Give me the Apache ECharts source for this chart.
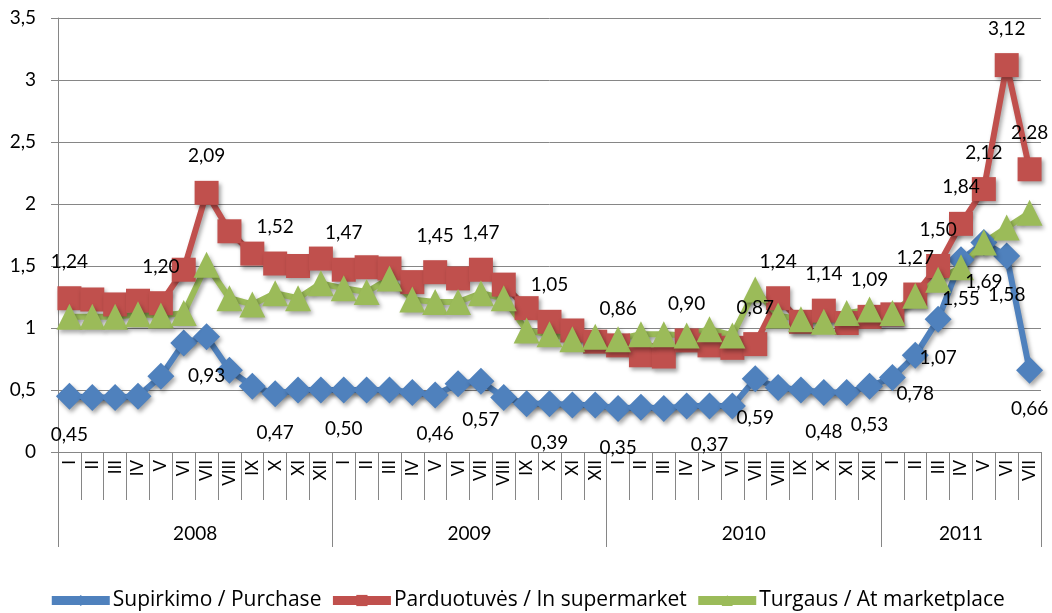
<!DOCTYPE html>
<html>
<head>
<meta charset="utf-8">
<script src="https://cdn.jsdelivr.net/npm/echarts@6/dist/echarts.min.js"></script>
<style>
html, body { margin: 0; padding: 0; background: #fff; }
#chart { width: 1052px; height: 613px; }
</style>
</head>
<body>
<div id="chart"></div>
<script>
// month names and years
const roman = ['I', 'II', 'III', 'IV', 'V', 'VI', 'VII', 'VIII', 'IX', 'X', 'XI', 'XII'];
const years = ['2008', '2009', '2010', '2011'];
const monthsPerYear = [12, 12, 12, 7];

const seriesNames = ['Supirkimo / Purchase', 'Parduotuvės / In supermarket', 'Turgaus / At marketplace'];

const purchase = [0.45, 0.44, 0.44, 0.45, 0.61, 0.88, 0.93, 0.66, 0.53, 0.47, 0.50, 0.50,
    0.50, 0.50, 0.50, 0.48, 0.46, 0.55, 0.57, 0.44, 0.39, 0.39, 0.38, 0.38,
    0.35, 0.36, 0.35, 0.37, 0.37, 0.37, 0.59, 0.52, 0.50, 0.48, 0.48, 0.53,
    0.60, 0.78, 1.07, 1.55, 1.69, 1.58, 0.66];
const supermarket = [1.24, 1.23, 1.19, 1.22, 1.20, 1.47, 2.09, 1.78, 1.60, 1.52, 1.50, 1.56,
    1.47, 1.49, 1.48, 1.37, 1.45, 1.40, 1.47, 1.35, 1.16, 1.05, 0.98, 0.89,
    0.86, 0.78, 0.77, 0.90, 0.86, 0.84, 0.87, 1.24, 1.05, 1.14, 1.04, 1.09,
    1.11, 1.27, 1.50, 1.84, 2.12, 3.12, 2.28];
const marketplace = [1.09, 1.09, 1.09, 1.11, 1.10, 1.12, 1.51, 1.24, 1.19, 1.28, 1.24, 1.36,
    1.32, 1.29, 1.40, 1.23, 1.21, 1.21, 1.28, 1.24, 0.98, 0.95, 0.91, 0.93,
    0.91, 0.95, 0.95, 0.94, 0.99, 0.94, 1.31, 1.10, 1.07, 1.05, 1.12, 1.15,
    1.12, 1.26, 1.39, 1.49, 1.69, 1.81, 1.93];

// which points carry a value label
const purchaseLabelIdx = [0, 6, 9, 12, 16, 18, 21, 24, 28, 30, 33, 35, 37, 38, 39, 40, 41, 42];
const supermarketLabelIdx = [0, 4, 6, 9, 12, 16, 18, 21, 24, 27, 30, 31, 33, 35, 37, 38, 39, 40, 41, 42];

const colors = ['#4F81BD', '#C0504D', '#9BBB59'];

let months = years.flatMap((y, i) => roman.slice(0, monthsPerYear[i]));

// year axis runs in half-month steps so labels sit in the middle of each year
let yearSlots = new Array(months.length * 2 + 1).fill('');
let yearEdges = [0];
let cum = 0;
monthsPerYear.forEach((n, i) => {
    yearSlots[cum + n] = years[i];
    cum += 2 * n;
    yearEdges.push(cum);
});

const fmt = v => v.toFixed(2).replace('.', ',');

function makeSeries(idx, values, symbol, size, labelIdx, pos, dist) {
    return {
        name: seriesNames[idx],
        type: 'line',
        symbol: symbol,
        symbolSize: size,
        showAllSymbol: true,
        lineStyle: {
            color: colors[idx],
            width: 6,
            shadowColor: 'rgba(0,0,0,0.35)',
            shadowBlur: 4,
            shadowOffsetX: 2,
            shadowOffsetY: 3
        },
        itemStyle: {
            color: colors[idx],
            shadowColor: 'rgba(0,0,0,0.35)',
            shadowBlur: 4,
            shadowOffsetX: 2,
            shadowOffsetY: 3
        },
        emphasis: { disabled: true },
        data: values.map((v, i) => ({
            value: v,
            label: {
                show: labelIdx ? labelIdx.includes(i) : false,
                position: pos,
                distance: dist,
                fontSize: 19,
                color: '#000',
                formatter: p => fmt(p.value)
            }
        }))
    };
}

let option = {
    animation: false,
    textStyle: { fontFamily: 'Lato' },
    color: colors,
    grid: { left: 58, right: 11, top: 18, bottom: 161 },
    legend: {
        top: 585,
        left: 'center',
        itemWidth: 58,
        itemHeight: 14,
        itemGap: 7,
        lineStyle: { width: 9, shadowBlur: 0, shadowOffsetX: 0, shadowOffsetY: 0 },
        itemStyle: { shadowBlur: 0, shadowOffsetX: 0, shadowOffsetY: 0 },
        textStyle: { fontSize: 21, color: '#000', fontFamily: 'Open Sans', padding: [0, 0, 0, -2] },
        data: seriesNames
    },
    xAxis: [{
        type: 'category',
        data: months,
        boundaryGap: true,
        position: 'bottom',
        offset: 0,
        axisLine: { lineStyle: { color: '#868686', width: 1 } },
        axisTick: { show: true, interval: 0, length: 48, lineStyle: { color: '#868686' } },
        axisLabel: { interval: 0, rotate: 90, margin: 8, fontSize: 17, color: '#000' }
    }, {
        type: 'category',
        data: yearSlots,
        boundaryGap: false,
        position: 'bottom',
        offset: 0,
        axisLine: { show: false },
        axisTick: {
            show: true,
            length: 95,
            interval: i => yearEdges.includes(i),
            lineStyle: { color: '#868686' }
        },
        axisLabel: { interval: 0, margin: 72, fontSize: 19, color: '#000' }
    }],
    yAxis: {
        type: 'value',
        min: 0,
        max: 3.5,
        interval: 0.5,
        axisLine: { show: true, lineStyle: { color: '#868686' } },
        axisTick: { show: true, length: 7, lineStyle: { color: '#868686' } },
        splitLine: { lineStyle: { color: '#868686', width: 1 } },
        axisLabel: {
            fontSize: 19,
            color: '#000',
            margin: 22,
            formatter: v => String(v).replace('.', ',')
        }
    },
    series: [
        makeSeries(0, purchase, 'diamond', 27, purchaseLabelIdx, 'bottom', 16),
        makeSeries(1, supermarket, 'rect', 24, supermarketLabelIdx, 'top', 15),
        makeSeries(2, marketplace, 'triangle', 26, null, 'top', 15)
    ]
};

var chart = echarts.init(document.getElementById('chart'));
chart.setOption(option);
window.addEventListener('resize', function() {
    chart.resize();
});
</script>
</body>
</html>
